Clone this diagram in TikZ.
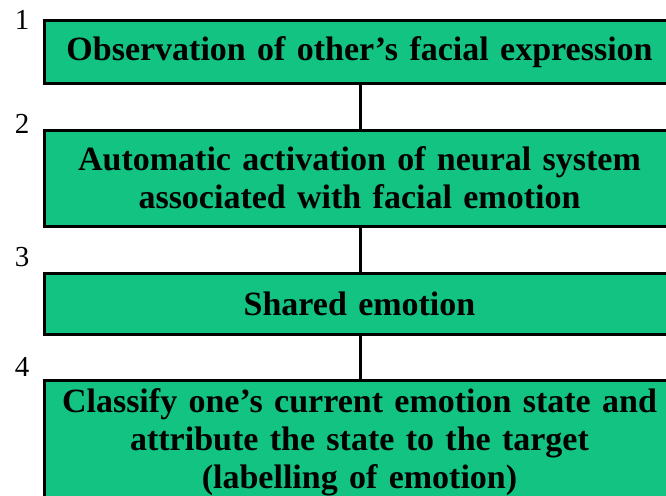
\documentclass[tikz,border=0pt]{standalone}
\usepackage{fontspec}
\setmainfont{Liberation Serif}
\usetikzlibrary{positioning}

\definecolor{boxgreen}{RGB}{18,195,130}

\tikzset{
  stage/.style={draw=black, line width=3pt, fill=boxgreen, anchor=north west,
    text width=630pt, align=center, inner sep=0pt,
    font=\fontsize{34}{38}\selectfont\bfseries},
  stagenum/.style={font=\fontsize{29}{30}\selectfont, inner sep=0pt},
  link/.style={line width=3pt}
}

\begin{document}
\begin{tikzpicture}[x=1pt,y=-1pt]
                  % Page frame
                  \useasboundingbox (0,0) rectangle (666,495);
                  \clip (0,0) rectangle (666,495);

                  % Stages
                  \node[stage, minimum height=62pt] (obs) at (43,19.5)
                    {Observation of other's facial expression};
                  \node[stage, minimum height=96pt] (act) at (43,128.5)
                    {Automatic activation of neural system\\associated with facial emotion};
                  \node[stage, minimum height=61pt] (shared) at (43,271.5)
                    {Shared emotion};
                  \node[stage, minimum height=124pt] (classify) at (43,378.5)
                    {Classify one's current emotion state and\\attribute the state to the target\\(labelling of emotion)};

                  % Numbers
                  \node[stagenum] (n1) at (22,20) {1};
                  \node[stagenum] (n2) at (22,124) {2};
                  \node[stagenum] (n3) at (22,257) {3};
                  \node[stagenum] (n4) at (22,367) {4};

                  % Links between stages
                  \draw[link] (obs.south -| 360,0) -- (act.north -| 360,0);
                  \draw[link] (act.south -| 360,0) -- (shared.north -| 360,0);
                  \draw[link] (shared.south -| 360,0) -- (classify.north -| 360,0);

              \end{tikzpicture}
\end{document}
